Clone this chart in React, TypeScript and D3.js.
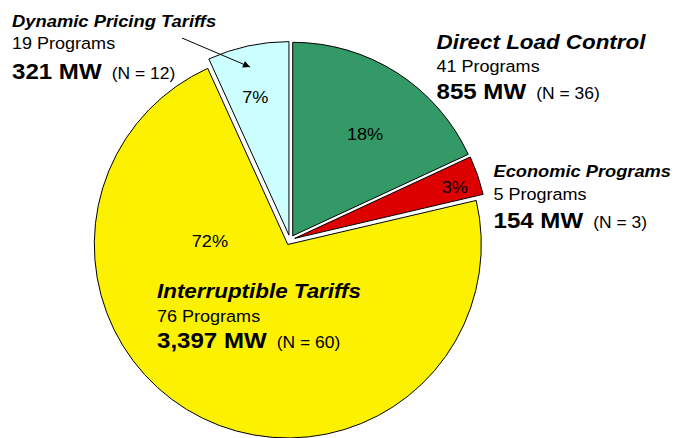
import React from "react";
import * as d3 from "d3";

// ---- data ----
const categories = ["Direct Load Control", "Economic Programs", "Interruptible Tariffs", "Dynamic Pricing Tariffs"];
const megawatts = [855, 154, 3397, 321];
const programCounts = [41, 5, 76, 19];
const respondents = [36, 3, 60, 12];

// ---- styles / layout ----
const colors = ["#339966", "#DD0000", "#FCF200", "#CCFFFF"];
const W = 674;
const H = 438;
const CX = 290;
const CY = 240;
const R = 193.5;
const EXPLODE = 5;
const SX = 1.12;
const FONT = "'Liberation Sans', Arial, Helvetica, sans-serif";

// text block anchor (x, title baseline), title size
const blocks = [
  { x: 436.5, y: 48.5, title: 20, g1: 23.2, g2: 27.3 },
  { x: 493.5, y: 177.3, title: 16.3, g1: 22.7, g2: 28.3 },
  { x: 157, y: 298.3, title: 20, g1: 23.4, g2: 26.6 },
  { x: 12, y: 27.3, title: 16.4, g1: 22, g2: 29.7 },
];
// percentage label placement: angle (deg, clockwise from north) and radius from slice apex
const pctPlace = [
  { a: 35.4, r: 125 },
  { a: 72.3, r: 168 },
  { a: 272.3, r: 78 },
  { a: 346.3, r: 142 },
];

export default function App() {
  const total = d3.sum(megawatts);
  const pie = d3
    .pie<number>()
    .sort(null)
    .startAngle(0)
    .endAngle(2 * Math.PI)
    .value((d) => d);
  const arcs = pie(megawatts);
  const arcGen = d3.arc<d3.PieArcDatum<number>>().innerRadius(0).outerRadius(R);
  const fmt = d3.format(",");

  return (
    <svg
      width={W}
      height={H}
      style={{ position: "absolute", left: 0, top: 0, background: "#fff" }}
      fontFamily={FONT}
    >
      <defs>
        <marker id="arrowhead" viewBox="0 0 10 10" refX="10" refY="5" markerWidth="9" markerHeight="7" markerUnits="userSpaceOnUse" orient="auto">
          <path d="M0,0 L10,5 L0,10 z" fill="#000" />
        </marker>
      </defs>
      <rect x={0} y={0} width={W} height={H} fill="#fff" />
      {arcs.map((a, i) => {
        const mid = (a.startAngle + a.endAngle) / 2;
        const ox = CX + EXPLODE * Math.sin(mid);
        const oy = CY - EXPLODE * Math.cos(mid);
        const p = pctPlace[i];
        const ang = (p.a * Math.PI) / 180;
        const lx = ox + p.r * Math.sin(ang);
        const ly = oy - p.r * Math.cos(ang);
        return (
          <g key={categories[i]}>
            <path
              d={arcGen(a) || ""}
              transform={`translate(${ox},${oy})`}
              fill={colors[i]}
              stroke="#000"
              strokeWidth={1}
              strokeLinejoin="miter"
            />
            <g transform={`translate(${lx},${ly}) scale(1.1,1)`}>
              <text x={0} y={0} dy="0.36em" textAnchor="middle" fontSize={16.5} fill="#000">
                {Math.round((megawatts[i] / total) * 100) + "%"}
              </text>
            </g>
          </g>
        );
      })}
      {categories.map((c, i) => {
        const b = blocks[i];
        return (
          <g key={"lbl" + c} transform={`translate(${b.x},${b.y}) scale(${SX},1)`} fill="#000">
            <text x={0} y={0} fontSize={b.title} fontWeight="bold" fontStyle="italic">
              {c}
            </text>
            <text x={0} y={b.g1} fontSize={16.1}>
              {programCounts[i] + " Programs"}
            </text>
            <text x={0} y={b.g1 + b.g2} fontSize={21.5} fontWeight="bold">
              {fmt(megawatts[i]) + " MW"}
              <tspan fontSize={15.6} fontWeight="normal" dx={9}>
                {"(N = " + respondents[i] + ")"}
              </tspan>
            </text>
          </g>
        );
      })}
      <line x1={182} y1={38} x2={250} y2={67} stroke="#000" strokeWidth={1} markerEnd="url(#arrowhead)" />
    </svg>
  );
}
